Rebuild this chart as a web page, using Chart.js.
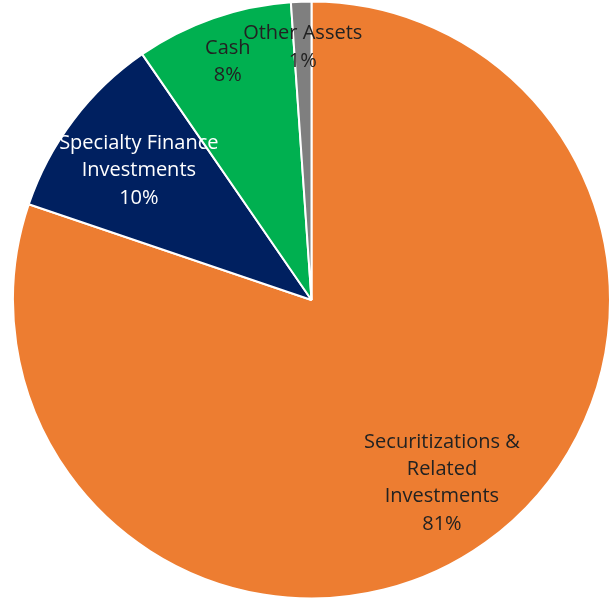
<!DOCTYPE html>
<html><head><meta charset="utf-8">
<script src="https://cdn.jsdelivr.net/npm/chart.js@4"></script>
<style>html,body{margin:0;padding:0;background:#fff}#wrap{width:611px;height:600px}</style>
</head><body><div id="wrap"><canvas id="c"></canvas></div>
<script>
const categories = [["Securitizations &","Related","Investments"],["Specialty Finance","Investments"],["Cash"],["Other Assets"]];
const values = [80.2, 10.2, 8.5, 1.1];
const valueLabels = ["81%","10%","8%","1%"];
const colors = ["#ED7D31","#002060","#00B050","#7F7F7F"];
const labelColors = ["#222222","#ffffff","#222222","#222222"];
const labelRadius = [0.75, 0.725, 0.85, 0.85];

const labelPlugin = {
  id: 'sliceLabels',
  afterDatasetsDraw(chart) {
    const ctx = chart.ctx;
    const meta = chart.getDatasetMeta(0);
    ctx.save();
    ctx.font = '20px "Open Sans", Lato, sans-serif';
    ctx.textAlign = 'center';
    ctx.textBaseline = 'middle';
    meta.data.forEach((arc, i) => {
      const p = arc.getProps(['x','y','startAngle','endAngle','outerRadius'], true);
      const mid = (p.startAngle + p.endAngle) / 2;
      const r = p.outerRadius * labelRadius[i];
      const cx = p.x + Math.cos(mid) * r;
      const cy = p.y + Math.sin(mid) * r + 1;
      const lines = categories[i].concat([valueLabels[i]]);
      const lh = 27.3;
      const top = cy - (lines.length - 1) * lh / 2;
      ctx.fillStyle = labelColors[i];
      lines.forEach((t, k) => ctx.fillText(t, cx, top + k * lh));
    });
    ctx.restore();
  }
};

new Chart(document.getElementById('c'), {
  type: 'pie',
  data: {
    labels: categories.map(c => c.join(' ')),
    datasets: [{ data: values, backgroundColor: colors, borderColor: '#ffffff', borderWidth: 2 }]
  },
  options: {
    responsive: true, maintainAspectRatio: false, animation: false,
    layout: { padding: { left: 12, right: 0, top: 0, bottom: 0 } },
    plugins: { legend: { display: false }, tooltip: { enabled: false } }
  },
  plugins: [labelPlugin]
});
</script></body></html>
